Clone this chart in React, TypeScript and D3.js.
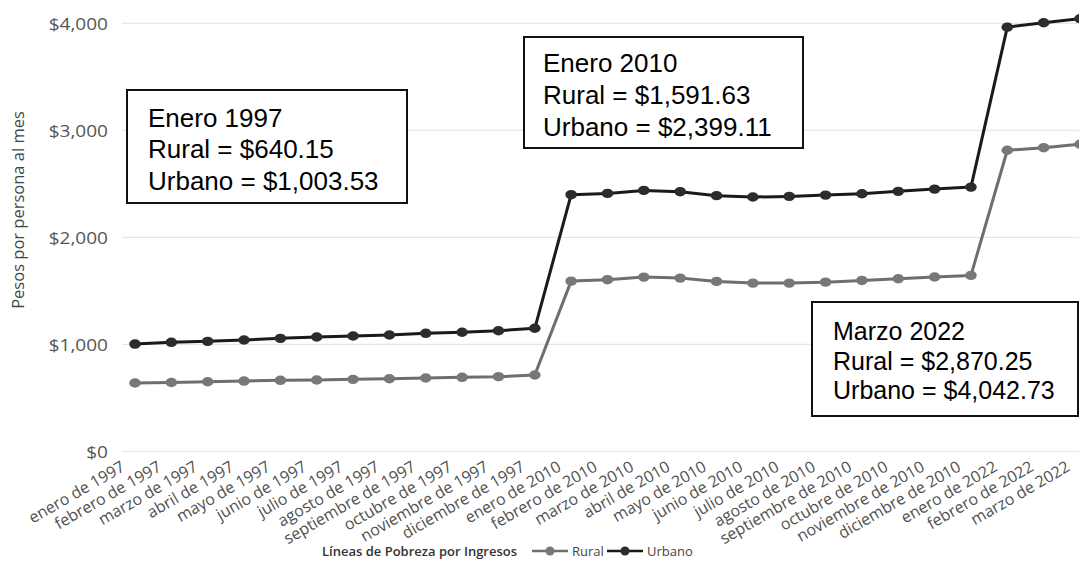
import React from "react";
import * as d3 from "d3";

const months = ["enero", "febrero", "marzo", "abril", "mayo", "junio", "julio", "agosto", "septiembre", "octubre", "noviembre", "diciembre"];
const categories: string[] = [
  ...months.map((m) => `${m} de 1997`),
  ...months.map((m) => `${m} de 2010`),
  "enero de 2022", "febrero de 2022", "marzo de 2022",
];

const rural: number[] = [
  640.15, 645, 652, 658, 665, 668, 674, 680, 687, 693, 699, 715,
  1591.63, 1605, 1629, 1620, 1589, 1573, 1573, 1582, 1598, 1614, 1630, 1645,
  2814, 2838, 2870.25,
];
const urbano: number[] = [
  1003.53, 1020, 1029, 1042, 1057, 1070, 1079, 1088, 1104, 1114, 1128, 1151,
  2399.11, 2411, 2439, 2427, 2390, 2377, 2383, 2395, 2408, 2430, 2451, 2470,
  3964, 4005, 4042.73,
];
const yTicks: number[] = [0, 1000, 2000, 3000, 4000];

const seriesNames = ["Rural", "Urbano"];
const legendTitle = "Líneas de Pobreza por Ingresos";
const yTitle = "Pesos por persona al mes";

const annotations = [
  { lines: ["Enero 1997", "Rural = $640.15", "Urbano = $1,003.53"] },
  { lines: ["Enero 2010", "Rural = $1,591.63", "Urbano = $2,399.11"] },
  { lines: ["Marzo 2022", "Rural = $2,870.25", "Urbano = $4,042.73"] },
];

const W = 1079;
const H = 584;
const FONT = "'Open Sans', 'Segoe UI', sans-serif";
const ARIAL = "Arial, 'Liberation Sans', sans-serif";

const colors = { Rural: { line: "#6e6e6e", dot: "#787878" }, Urbano: { line: "#1a1a1a", dot: "#2c2c2c" } };

export default function App() {
  const x = d3.scalePoint<string>().domain(categories).range([135, 1080]);
  const y = d3.scaleLinear().domain([0, 4000]).range([451.5, 23.3]);
  const fmt = d3.format("$,");

  const line = d3
    .line<number>()
    .x((_, i) => x(categories[i]) as number)
    .y((d) => y(d));

  const series = [
    { name: "Rural", values: rural },
    { name: "Urbano", values: urbano },
  ];

  const boxes = [
    { x: 127, y: 90, w: 280, h: 113, tx: 148, ty: 126.5, lh: 31.5, fs: 26 },
    { x: 524, y: 37, w: 279, h: 111, tx: 543, ty: 72, lh: 32, fs: 26 },
    { x: 812, y: 302, w: 266, h: 114, tx: 833, ty: 340, lh: 29.5, fs: 25 },
  ];

  return (
    <svg width={W} height={H} style={{ position: "absolute", left: 0, top: 0, background: "#fff" }}>
      <rect x={0} y={0} width={W} height={H} fill="#fff" />
      {yTicks.map((t) => (
        <line key={t} x1={122} x2={W} y1={y(t)} y2={y(t)} stroke="#e6e6e6" strokeWidth={1.2} />
      ))}
      {yTicks.map((t) => (
        <text
          key={"l" + t}
          transform={`translate(108,${y(t)}) scale(1.12,1)`}
          textAnchor="end"
          dominantBaseline="central"
          fontFamily={FONT}
          fontSize={17}
          fill="#555"
        >
          {fmt(t)}
        </text>
      ))}
      <text
        transform={`translate(17,210) rotate(-90)`}
        textAnchor="middle"
        dominantBaseline="central"
        fontFamily={FONT}
        fontSize={16.5}
        fill="#444"
      >
        {yTitle}
      </text>
      {categories.map((c) => (
        <text
          key={c}
          transform={`translate(${(x(c) as number) - 9},470) rotate(-30)`}
          textAnchor="end"
          fontFamily={FONT}
          fontSize={16}
          fill="#505050"
        >
          {c}
        </text>
      ))}
      {series.map((s) => (
        <g key={s.name}>
          <path d={line(s.values) || ""} fill="none" stroke={colors[s.name as "Rural"].line} strokeWidth={3} strokeLinejoin="round" />
          {s.values.map((v, i) => (
            <ellipse key={i} cx={x(categories[i])} cy={y(v)} rx={5.8} ry={4.7} fill={colors[s.name as "Rural"].dot} />
          ))}
        </g>
      ))}
      {annotations.map((a, k) => {
        const b = boxes[k];
        return (
          <g key={k}>
            <rect x={b.x} y={b.y} width={b.w} height={b.h} fill="#fff" stroke="#111" strokeWidth={2} />
            {a.lines.map((l, j) => (
              <text key={j} x={b.tx} y={b.ty + j * b.lh} fontFamily={ARIAL} fontSize={b.fs} fill="#000">
                {l}
              </text>
            ))}
          </g>
        );
      })}
      <g fontFamily={FONT} fontSize={13}>
        <text x={322} y={556} fontWeight={600} fill="#333">{legendTitle}</text>
        {seriesNames.map((n, i) => {
          const x0 = i === 0 ? 532 : 607;
          const c = colors[n as "Rural"];
          return (
            <g key={n}>
              <line x1={x0} x2={x0 + 36} y1={551} y2={551} stroke={c.line} strokeWidth={2.5} />
              <circle cx={x0 + 18} cy={551} r={4.5} fill={c.dot} />
              <text x={x0 + 40} y={556} fill="#444">{n}</text>
            </g>
          );
        })}
      </g>
    </svg>
  );
}
